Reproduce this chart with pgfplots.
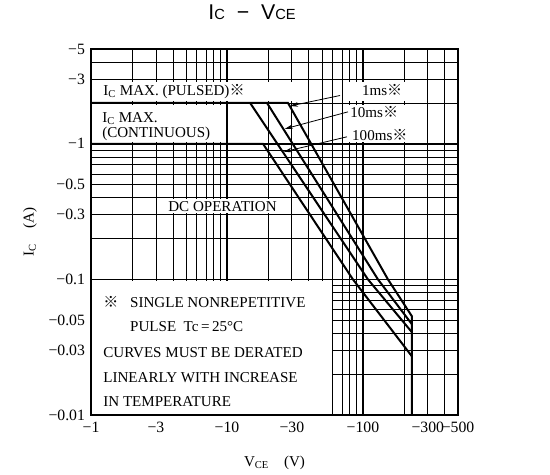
\documentclass[border=0pt]{standalone}
\usepackage{fontspec}
\setmainfont{Liberation Serif}
\newfontfamily\titlefont{Liberation Sans}
\newfontfamily\cjk{Noto Sans CJK JP}
\usepackage{pgfplots}
\pgfplotsset{compat=1.18}
\usetikzlibrary{arrows.meta}

\newcommand\kome{{\cjk ※}}
\newcommand\lbl{\fontsize{11.3}{13}\selectfont}

\begin{document}
\begin{tikzpicture}
% 1px = 0.75pt, axis box at (91,49)-(458,415) px of a 550x475 picture
\path[use as bounding box] (-68.25pt,-45pt) rectangle (344.25pt,311.25pt);
\begin{axis}[
  at={(0,0)}, anchor=south west,
  scale only axis, width=275.25pt, height=274.5pt,
  xmode=log, ymode=log,
  xmin=1, xmax=500, ymin=0.01, ymax=5,
  xtick={1,3,10,30,100,300,500},
  xticklabels={−1,−3,−10,−30,−100,−300,−500},
  ytick={0.01,0.03,0.05,0.1,0.3,0.5,1,3,5},
  yticklabels={−0.01,−0.03,−0.05,−0.1,−0.3,−0.5,−1,−3,−5},
  minor xtick={2,4,5,6,7,8,9,20,40,50,60,70,80,90,200,400},
  minor ytick={0.02,0.04,0.06,0.07,0.08,0.09,0.2,0.4,0.6,0.7,0.8,0.9,2,4},
  grid=both,
  major grid style={black, line width=0.55pt},
  minor grid style={black, line width=0.55pt},
  extra x ticks={10,100}, extra x tick labels={},
  extra y ticks={0.1,1}, extra y tick labels={},
  extra tick style={major grid style={black, line width=1.1pt}},
  major tick length=0pt, minor tick length=0pt,
  axis line style={line width=1.4pt},
  ticklabel style={font=\fontsize{11.8}{12}\selectfont},
  xticklabel style={yshift=-2pt},
  yticklabel style={xshift=-1pt},
  xlabel={V\textsubscript{CE}\quad(V)},
  ylabel={I\textsubscript{C}\quad(A)},
  label style={font=\lbl},
  xlabel style={at={(axis description cs:0.5,-0.14)}, anchor=base},
  ylabel style={at={(axis description cs:-0.166,0.5)}, anchor=center},
  title={\titlefont\fontsize{16}{16}\selectfont I{\fontsize{11}{11}\selectfont C}\ \ −\ \ V{\fontsize{11}{11}\selectfont CE}},
  title style={at={(axis description cs:0.439,1.060)}, anchor=base, inner sep=0pt},
]
% white label backgrounds over the grid
\fill[white] (rel axis cs:0.004,0.857) rectangle (rel axis cs:0.583,0.911);
\fill[white] (rel axis cs:0.004,0.745) rectangle (rel axis cs:0.357,0.848);
\fill[white] (rel axis cs:0.695,0.745) rectangle (rel axis cs:0.886,0.848);
\fill[white] (rel axis cs:0.695,0.857) rectangle (rel axis cs:0.886,0.911);
\fill[white] (rel axis cs:0.207,0.553) rectangle (rel axis cs:0.542,0.590);
\fill[white] (rel axis cs:0.004,0.004) rectangle (rel axis cs:0.656,0.365);

% safe operating area curves
\addplot[black, line width=1.5pt] coordinates {(1,2)(28.1,2)(152.7,0.1)(229,0.0535)(229,0.01)};  % 1 ms
\addplot[black, line width=1.5pt] coordinates {(19.7,2)(128.9,0.1)(229,0.0467)};               % 10 ms
\addplot[black, line width=1.5pt] coordinates {(14.8,2)(108.8,0.1)(229,0.0408)};               % 100 ms
\addplot[black, line width=1.5pt] coordinates {(1,1)(18.4,1)(84.4,0.1)(214,0.0296)(229,0.0271)}; % DC

% arrows to the pulse curves
\draw[-{Stealth[length=6pt,width=3.5pt]}, line width=0.6pt] (axis cs:67.8,2.27) -- (axis cs:29.1,1.90);
\draw[-{Stealth[length=6pt,width=3.5pt]}, line width=0.6pt] (axis cs:77.6,1.72) -- (axis cs:26.7,1.29);
\draw[-{Stealth[length=6pt,width=3.5pt]}, line width=0.6pt] (axis cs:76.3,1.126) -- (axis cs:26.2,0.873);

% labels
\node[anchor=base west, inner sep=0, font=\lbl] at (rel axis cs:0.033,0.874) {I\textsubscript{C} MAX. (PULSED)\kome};
\node[anchor=base west, inner sep=0, font=\lbl] at (rel axis cs:0.030,0.800) {I\textsubscript{C} MAX.};
\node[anchor=base west, inner sep=0, font=\lbl] at (rel axis cs:0.030,0.757) {(CONTINUOUS)};
\node[anchor=base west, inner sep=0, font=\lbl] at (rel axis cs:0.738,0.874) {1ms\kome};
\node[anchor=base west, inner sep=0, font=\lbl] at (rel axis cs:0.706,0.814) {10ms\kome};
\node[anchor=base west, inner sep=0, font=\lbl] at (rel axis cs:0.711,0.751) {100ms\kome};
\node[anchor=base west, inner sep=0, font=\lbl] at (rel axis cs:0.210,0.557) {DC OPERATION};
\node[anchor=base west, inner sep=0, font=\lbl] at (rel axis cs:0.033,0.295) {\kome};
\node[anchor=base west, inner sep=0, font=\lbl] at (rel axis cs:0.106,0.295) {SINGLE NONREPETITIVE};
\node[anchor=base west, inner sep=0, font=\lbl] at (rel axis cs:0.106,0.2295) {PULSE\ \ Tc\,=\,25°C};
\node[anchor=base west, inner sep=0, font=\lbl] at (rel axis cs:0.033,0.158) {CURVES MUST BE DERATED};
\node[anchor=base west, inner sep=0, font=\lbl] at (rel axis cs:0.033,0.090) {LINEARLY WITH INCREASE};
\node[anchor=base west, inner sep=0, font=\lbl] at (rel axis cs:0.033,0.0246) {IN TEMPERATURE};
\end{axis}
\end{tikzpicture}
\end{document}
